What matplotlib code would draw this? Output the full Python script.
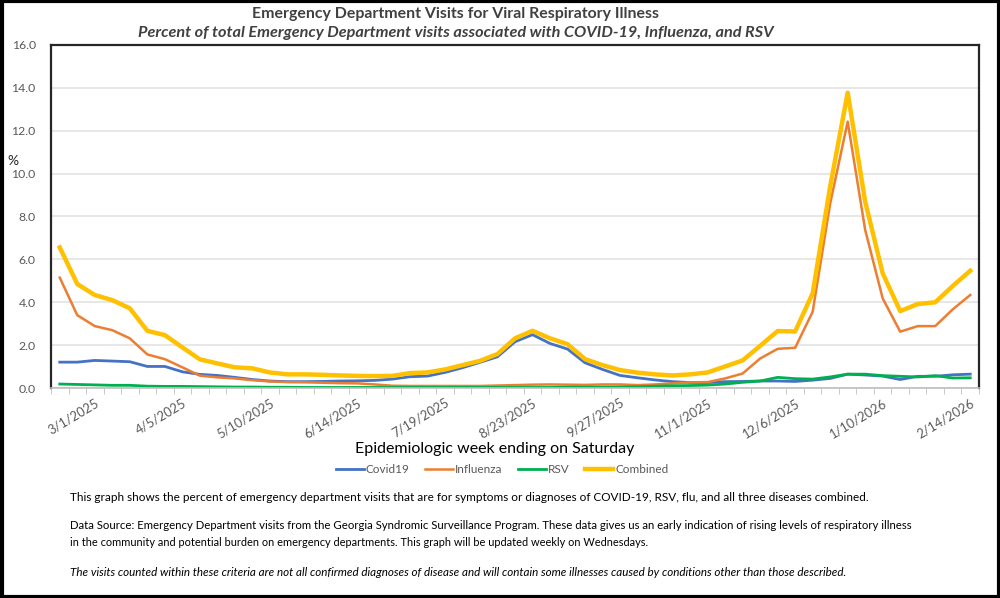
#!/usr/bin/env python3
import matplotlib
matplotlib.use('Agg')
import matplotlib.pyplot as plt
from matplotlib.patches import Rectangle
import numpy as np
import pandas as pd

plt.rcParams['font.family'] = ['Lato', 'DejaVu Sans']

# week ending dates (Saturdays), 2/15/2025 .. 2/14/2026
weeks = pd.date_range('2025-02-15', periods=53, freq='7D')
week_labels = ['{0}/{1}/{2}'.format(d.month, d.day, d.year) for d in weeks]

covid = [1.21, 1.21, 1.29, 1.26, 1.23, 1.01, 1.01, 0.76, 0.64, 0.59,
         0.50, 0.40, 0.33, 0.30, 0.30, 0.31, 0.33, 0.34, 0.36, 0.42,
         0.53, 0.56, 0.73, 0.95, 1.20, 1.46, 2.16, 2.49, 2.08, 1.82,
         1.18, 0.87, 0.59, 0.48, 0.38, 0.30, 0.26, 0.26, 0.30, 0.31,
         0.33, 0.33, 0.31, 0.37, 0.45, 0.65, 0.61, 0.56, 0.40, 0.55,
         0.55, 0.62, 0.65]
flu = [5.15, 3.40, 2.89, 2.70, 2.32, 1.57, 1.35, 0.97, 0.58, 0.50,
       0.45, 0.37, 0.31, 0.28, 0.27, 0.25, 0.23, 0.22, 0.17, 0.11,
       0.10, 0.10, 0.10, 0.10, 0.10, 0.12, 0.14, 0.16, 0.17, 0.16,
       0.15, 0.17, 0.17, 0.14, 0.17, 0.22, 0.27, 0.28, 0.45, 0.68,
       1.38, 1.83, 1.88, 3.56, 8.60, 12.42, 7.37, 4.18, 2.63, 2.89,
       2.89, 3.67, 4.34]
rsv = [0.19, 0.17, 0.15, 0.13, 0.13, 0.09, 0.08, 0.08, 0.07, 0.06,
       0.05, 0.05, 0.04, 0.04, 0.03, 0.03, 0.03, 0.03, 0.03, 0.03,
       0.03, 0.03, 0.03, 0.03, 0.03, 0.03, 0.03, 0.03, 0.03, 0.04,
       0.04, 0.04, 0.05, 0.06, 0.09, 0.11, 0.12, 0.14, 0.19, 0.27,
       0.33, 0.50, 0.44, 0.42, 0.52, 0.65, 0.65, 0.58, 0.55, 0.52,
       0.58, 0.47, 0.48]
combined = [6.56, 4.85, 4.34, 4.10, 3.72, 2.67, 2.47, 1.90, 1.34, 1.15,
            0.97, 0.92, 0.73, 0.64, 0.64, 0.62, 0.59, 0.57, 0.56, 0.57,
            0.70, 0.73, 0.87, 1.07, 1.27, 1.59, 2.32, 2.67, 2.32, 2.05,
            1.35, 1.07, 0.84, 0.72, 0.64, 0.59, 0.64, 0.73, 1.01, 1.29,
            1.97, 2.66, 2.64, 4.42, 9.40, 13.77, 8.69, 5.35, 3.59, 3.92,
            4.00, 4.76, 5.47]


def main():
    fig = plt.figure(figsize=(10, 5.98), dpi=100)
    ax = fig.add_axes([0.051, 0.351, 0.928, 0.574])
    x = np.arange(len(week_labels))

    ax.plot(x, covid, color='#4472C4', lw=2, label='Covid19')
    ax.plot(x, flu, color='#ED7D31', lw=1.8, label='Influenza')
    ax.plot(x, rsv, color='#00B050', lw=2, label='RSV')
    ax.plot(x, combined, color='#FFC000', lw=3.2, label='Combined')

    ax.set_xlim(-0.5, len(x) - 0.5)
    ax.set_ylim(0, 16)
    ax.set_yticks(np.arange(0, 17, 2))
    ax.set_yticklabels(['{0:.1f}'.format(v) for v in np.arange(0, 17, 2)])
    ax.grid(axis='y', color='#e3e3e3', lw=1.2)
    ax.set_axisbelow(True)

    lab_idx = list(range(2, len(x), 5))
    ax.set_xticks(lab_idx)
    ax.set_xticklabels([week_labels[i] for i in lab_idx], rotation=31,
                       ha='right', rotation_mode='anchor')
    ax.set_xticks(np.arange(-0.5, len(x), 1), minor=True)
    ax.tick_params(axis='x', which='major', length=0, labelsize=9.3,
                   labelcolor='#595959', pad=6)
    ax.tick_params(axis='x', which='minor', length=4, color='#bfbfbf')
    ax.tick_params(axis='y', length=0, labelsize=8.8, labelcolor='#595959', pad=11)

    for s in ['left', 'top', 'right']:
        ax.spines[s].set_color('#262626')
        ax.spines[s].set_linewidth(1.6)
    ax.spines['bottom'].set_color('#bfbfbf')
    ax.spines['bottom'].set_linewidth(1.2)

    fig.text(0.007, 0.731, '%', fontsize=10, color='#262626', va='center')

    fig.text(0.456, 0.976, 'Emergency Department Visits for Viral Respiratory Illness',
             ha='center', va='center', fontsize=11.4, fontweight='bold', color='#404040')
    fig.text(0.456, 0.944, 'Percent of total Emergency Department visits associated with COVID-19, Influenza, and RSV',
             ha='center', va='center', fontsize=11.7, fontweight='bold',
             fontstyle='italic', color='#404040')

    fig.text(0.495, 0.25, 'Epidemiologic week ending on Saturday', ha='center',
             va='center', fontsize=11.5, color='#000000')

    leg = fig.legend(loc='center', bbox_to_anchor=(0.502, 0.215), ncol=4,
                     frameon=False, fontsize=8.5, handlelength=2.4,
                     columnspacing=1.3, handletextpad=0.15)
    for t in leg.get_texts():
        t.set_color('#595959')

    fig.text(0.07, 0.168, 'This graph shows the percent of emergency department visits that are for symptoms or diagnoses of COVID-19, RSV, flu, and all three diseases combined.',
             fontsize=8.45, va='center')
    fig.text(0.07, 0.121, 'Data Source: Emergency Department visits from the Georgia Syndromic Surveillance Program. These data gives us an early indication of rising levels of respiratory illness',
             fontsize=8.2, va='center')
    fig.text(0.07, 0.093, 'in the community and potential burden on emergency departments. This graph will be updated weekly on Wednesdays.',
             fontsize=7.95, va='center')
    fig.text(0.07, 0.043, 'The visits counted within these criteria are not all confirmed diagnoses of disease and will contain some illnesses caused by conditions other than those described.',
             fontsize=8.35, va='center', fontstyle='italic')

    fig.add_artist(Rectangle((0.0015, 0.0025), 0.997, 0.995, transform=fig.transFigure,
                             fill=False, edgecolor='black', lw=3))

    fig.savefig('out.png', dpi=100)


if __name__ == '__main__':
    main()
